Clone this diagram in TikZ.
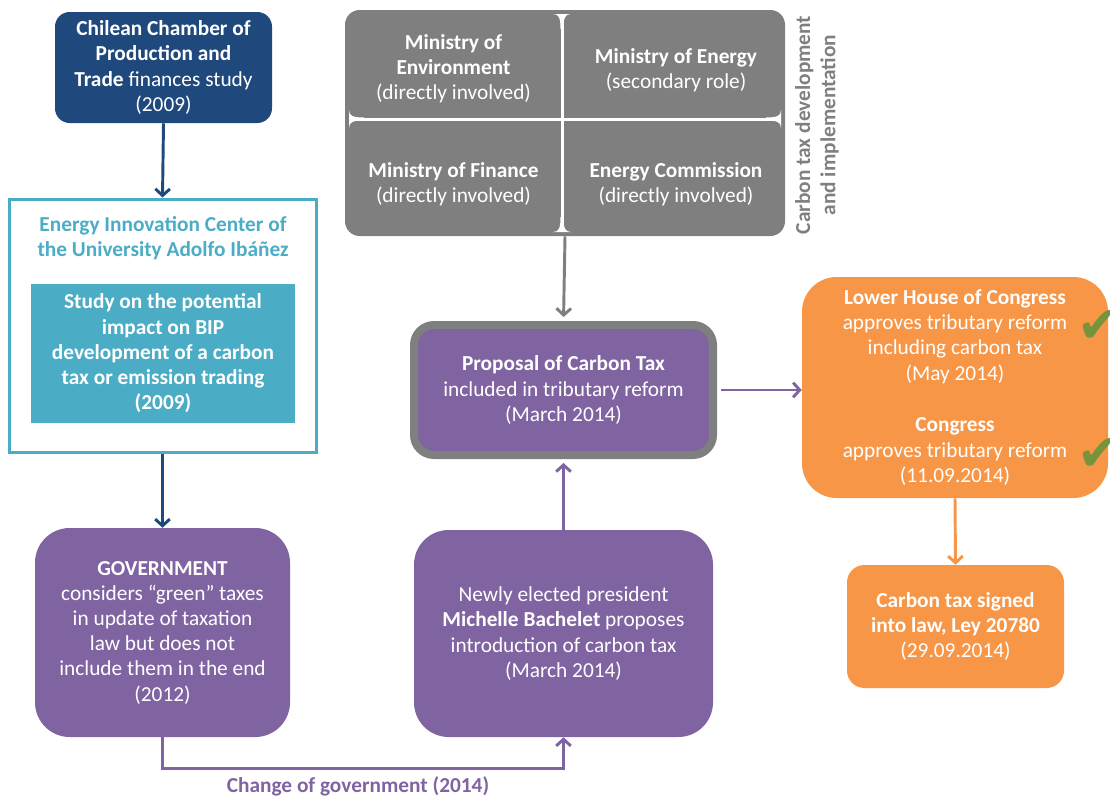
\documentclass[tikz,border=0pt]{standalone}
\usepackage{fontspec}
\setmainfont{Carlito}
\newfontfamily\symfont{DejaVu Sans}
\usetikzlibrary{arrows.meta}
\definecolor{cdblue}{RGB}{31,73,125}
\definecolor{cteal}{RGB}{75,172,198}
\definecolor{cpurple}{RGB}{128,100,162}
\definecolor{corange}{RGB}{247,150,70}
\definecolor{cgray}{RGB}{127,127,127}
\definecolor{cgreen}{RGB}{119,147,60}
\newcommand\bodyfont{\fontsize{16pt}{18.9pt}\selectfont}
\tikzset{
  txt/.style={font=\bodyfont, align=center, text=white},
  fbox/.style={txt, inner sep=0pt, draw=none},
  arr/.style={line width=2.2pt, -{Straight Barb[length=5pt,width=11pt,line width=2.2pt]}},
  chk/.style={text=cgreen, font=\symfont\fontsize{38pt}{38pt}\selectfont, anchor=west, inner sep=0pt},
}
\begin{document}
\begin{tikzpicture}[x=0.75pt,y=-0.75pt]
\useasboundingbox (0,0) rectangle (1110,796);

% Chilean chamber
\node[fbox, fill=cdblue, rounded corners=11pt, minimum width=162.75pt, minimum height=83.25pt] (cham) at (163.5,67.5)
  {\textbf{Chilean Chamber of}\\\textbf{Production and}\\\textbf{Trade} finances study\\(2009)};

% Energy innovation center
\node[fbox, draw=cteal, line width=2.25pt, minimum width=230.25pt, minimum height=189.75pt] (eic) at (162.5,325.5) {};
\node[txt, text=cteal, font=\bodyfont\bfseries] (eict) at (163,238)
  {Energy Innovation Center of\\the University Adolfo Ibáñez};
\node[fbox, fill=cteal, minimum width=198pt, minimum height=104.25pt, font=\bodyfont\bfseries] (study) at (163,353.5)
  {Study on the potential\\impact on BIP\\development of a carbon\\tax or emission trading\\(2009)};

% Government
\node[fbox, fill=cpurple, rounded corners=26pt, minimum width=191.25pt, minimum height=156.75pt] (gov) at (162.5,632.5)
  {\textbf{GOVERNMENT}\\considers “green” taxes\\in update of taxation\\law but does not\\include them in the end\\(2012)};

% Bachelet
\node[fbox, fill=cpurple, rounded corners=26pt, minimum width=224.25pt, minimum height=155.25pt] (bach) at (563.5,633.5)
  {Newly elected president\\\textbf{Michelle Bachelet} proposes\\introduction of carbon tax\\(March 2014)};

% Proposal
\node[fbox, fill=cpurple, draw=cgray, line width=6pt, rounded corners=15pt, minimum width=224.25pt, minimum height=97.5pt] (prop) at (563.5,390)
  {\textbf{Proposal of Carbon Tax}\\included in tributary reform\\(March 2014)};

% Ministries
\node[fbox, fill=cgray, rounded corners=11pt, minimum width=330pt, minimum height=169.5pt] (min) at (565,123) {};
\fill[white] (560.5,14) rectangle (563.5,232);
\fill[white] (349,117.5) rectangle (781,120.5);
\fill[white] (553,14) -- (571,14) .. controls (565,14) and (563.5,18) .. (563.5,29) -- (560.5,29) .. controls (560.5,18) and (559,14) .. (553,14) -- cycle;
\fill[white] (553,232) -- (571,232) .. controls (565,232) and (563.5,228) .. (563.5,217) -- (560.5,217) .. controls (560.5,228) and (559,232) .. (553,232) -- cycle;
\fill[white] (349,110) -- (349,128) .. controls (349,122) and (353,120.5) .. (364,120.5) -- (364,117.5) .. controls (353,117.5) and (349,116) .. (349,110) -- cycle;
\fill[white] (781,110) -- (781,128) .. controls (781,122) and (777,120.5) .. (766,120.5) -- (766,117.5) .. controls (777,117.5) and (781,116) .. (781,110) -- cycle;
\node[txt] (m1) at (453.5,69) {\textbf{Ministry of}\\\textbf{Environment}\\(directly involved)};
\node[txt] (m2) at (676,70) {\textbf{Ministry of Energy}\\(secondary role)};
\node[txt] (m3) at (453.5,184.5) {\textbf{Ministry of Finance}\\(directly involved)};
\node[txt] (m4) at (676,184.5) {\textbf{Energy Commission}\\(directly involved)};
\node[txt, text=cgray, font=\bodyfont\bfseries, rotate=90] (ctd) at (817,125)
  {Carbon tax development\\and implementation};

% Lower house
\node[fbox, fill=corange, rounded corners=26pt, minimum width=229.5pt, minimum height=165.75pt] (lh) at (955,387.5)
  {\textbf{Lower House of Congress}\\approves tributary reform\\including carbon tax\\(May 2014)\\[20pt]\textbf{Congress}\\approves tributary reform\\(11.09.2014)};
\node[chk] (ck1) at (1077,327) {✔};
\node[chk] (ck2) at (1077,455) {✔};

% Signed
\node[fbox, fill=corange, rounded corners=13pt, minimum width=162.75pt, minimum height=92.25pt] (sign) at (955.5,626.5)
  {\textbf{Carbon tax signed}\\\textbf{into law, Ley 20780}\\(29.09.2014)};

% Connectors
\draw[arr, cdblue] (cham.south) -- (eic.north);
\draw[arr, cdblue] (eic.south) -- (gov.north);
\draw[arr, cpurple] (gov.south) -- ++(0,31) coordinate (cg) -| (bach.south);
\node[text=cpurple, font=\bodyfont\bfseries] (cgl) at (358,786) {Change of government (2014)};
\draw[arr, cpurple, shorten >=3pt] (bach.north) -- (prop.south);
\draw[arr, cgray, shorten >=3pt] (min.south) -- (prop.north);
\draw[arr, cpurple, shorten <=3pt] (prop.east) -- (prop.east -| lh.west);
\draw[arr, corange] (lh.south) -- (sign.north);
\end{tikzpicture}
\end{document}
